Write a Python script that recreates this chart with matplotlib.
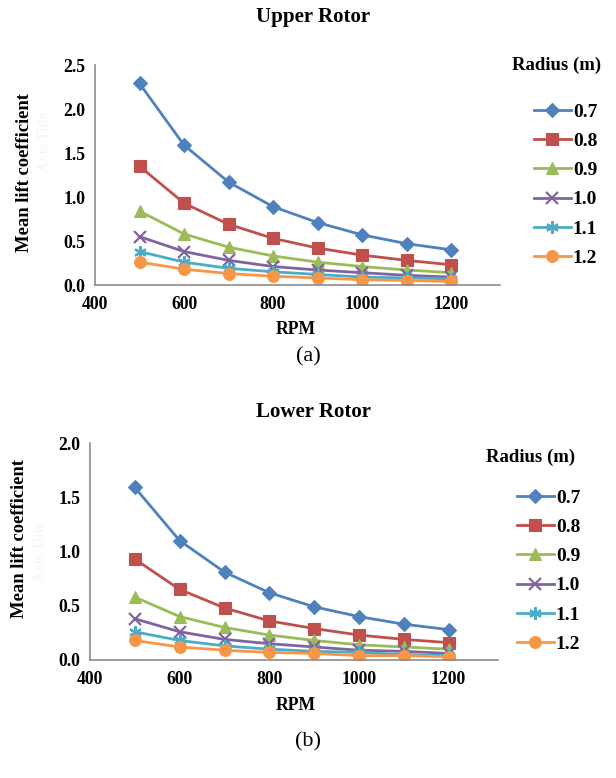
import matplotlib
matplotlib.use("Agg")
import matplotlib.pyplot as plt

plt.rcParams['font.family'] = ['Liberation Serif', 'DejaVu Serif']

rpm = [500, 600, 700, 800, 900, 1000, 1100, 1200]
radius_labels = ['0.7', '0.8', '0.9', '1.0', '1.1', '1.2']

# upper rotor, one list per radius
upper_07 = [2.29, 1.59, 1.17, 0.89, 0.71, 0.57, 0.47, 0.40]
upper_08 = [1.35, 0.93, 0.69, 0.53, 0.42, 0.34, 0.28, 0.23]
upper_09 = [0.84, 0.58, 0.43, 0.33, 0.26, 0.21, 0.17, 0.14]
upper_10 = [0.55, 0.38, 0.28, 0.21, 0.17, 0.14, 0.11, 0.09]
upper_11 = [0.38, 0.26, 0.19, 0.15, 0.12, 0.09, 0.08, 0.07]
upper_12 = [0.26, 0.18, 0.13, 0.10, 0.08, 0.06, 0.05, 0.04]

# lower rotor
lower_07 = [1.59, 1.10, 0.81, 0.62, 0.49, 0.40, 0.33, 0.28]
lower_08 = [0.93, 0.65, 0.48, 0.36, 0.29, 0.23, 0.19, 0.16]
lower_09 = [0.58, 0.40, 0.30, 0.23, 0.18, 0.14, 0.12, 0.10]
lower_10 = [0.38, 0.26, 0.19, 0.15, 0.12, 0.09, 0.08, 0.06]
lower_11 = [0.26, 0.18, 0.13, 0.10, 0.08, 0.07, 0.05, 0.04]
lower_12 = [0.18, 0.12, 0.09, 0.07, 0.06, 0.04, 0.04, 0.03]

upper_yticks = [0.0, 0.5, 1.0, 1.5, 2.0, 2.5]
lower_yticks = [0.0, 0.5, 1.0, 1.5, 2.0]
xticks = [400, 600, 800, 1000, 1200]

colors = ['#4F81BD', '#C0504D', '#9BBB59', '#8064A2', '#4BACC6', '#F79646']
markers = ['D', 's', '^', 'x', (6, 2, 0), 'o']
msizes = [7, 8, 8, 8, 9, 8.5]

W, H = 616, 778
fig = plt.figure(figsize=(W / 100, H / 100), dpi=100)


def px_axes(left, top, right, bottom):
    return fig.add_axes([left / W, 1 - bottom / H, (right - left) / W, (bottom - top) / H])


def draw_panel(ax, series, yticks, title, title_y, leg_x, leg_top, leg_title_x, leg_title_y,
               ylab_xy, ghost_xy, rpm_y, cap, cap_y):
    for vals, lab, c, m, ms in zip(series, radius_labels, colors, markers, msizes):
        ax.plot(rpm, vals, color=c, marker=m, markersize=ms, lw=2.0,
                markeredgewidth=1.6 if m in ('x', (6, 2, 0)) else 0.8,
                markeredgecolor=c, label=lab)
    ax.set_xlim(400, 1310)
    ax.set_ylim(yticks[0], yticks[-1])
    ax.set_xticks(xticks)
    ax.set_yticks(yticks)
    ax.set_yticklabels([f'{t:.1f}' for t in yticks])
    for s in ['top', 'right']:
        ax.spines[s].set_visible(False)
    for s in ['left', 'bottom']:
        ax.spines[s].set_color('#8c8c8c')
        ax.spines[s].set_linewidth(1.2)
    ax.tick_params(length=0, labelsize=12.7)
    ax.tick_params(axis='x', pad=8)
    ax.tick_params(axis='y', pad=7)
    for t in ax.get_xticklabels() + ax.get_yticklabels():
        t.set_fontweight('bold')

    fig.text(313 / W, 1 - title_y / H, title, ha='center', va='center',
             fontsize=15, fontweight='bold')
    fig.text(ylab_xy[0] / W, 1 - ylab_xy[1] / H, 'Mean lift coefficient', rotation=90,
             ha='center', va='center', fontsize=13.4, fontweight='bold')
    fig.text(ghost_xy[0] / W, 1 - ghost_xy[1] / H, 'Axis Title', rotation=90,
             ha='center', va='center', fontsize=11, color='#f3f3f3')
    fig.text(296 / W, 1 - rpm_y / H, 'RPM', ha='center', va='center',
             fontsize=12.7, fontweight='bold')
    fig.text(308 / W, 1 - cap_y / H, cap, ha='center', va='center', fontsize=16)
    fig.text(leg_title_x / W, 1 - leg_title_y / H, 'Radius (m)', ha='center', va='center',
             fontsize=13.5, fontweight='bold')
    leg = ax.legend(loc='upper left', bbox_to_anchor=(leg_x / W, 1 - leg_top / H),
                    bbox_transform=fig.transFigure, frameon=False, borderpad=0,
                    borderaxespad=0, handlelength=1.9, handletextpad=0.1,
                    labelspacing=0.6, prop={'size': 14, 'weight': 'bold'})
    return leg


ax1 = px_axes(95, 65, 500, 285)
draw_panel(ax1, [upper_07, upper_08, upper_09, upper_10, upper_11, upper_12],
           upper_yticks, 'Upper Rotor', 17, 534, 103, 557, 65,
           (25, 172), (45, 142), 330, '(a)', 357)

ax2 = px_axes(90, 443, 498, 660)
draw_panel(ax2, [lower_07, lower_08, lower_09, lower_10, lower_11, lower_12],
           lower_yticks, 'Lower Rotor', 412, 517, 489, 531, 457,
           (20, 538), (41, 552), 705, '(b)', 742)

fig.savefig('out.png', dpi=100)
